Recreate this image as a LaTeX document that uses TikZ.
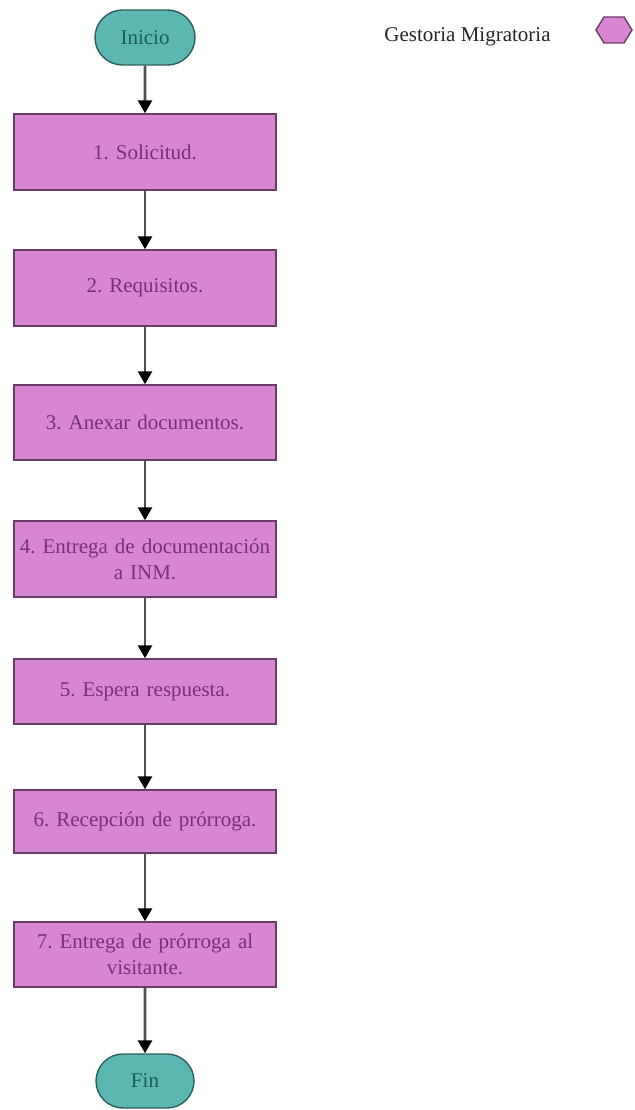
\documentclass[tikz,border=0pt]{standalone}
\usepackage{fontspec}
\setmainfont{Liberation Serif}
\usetikzlibrary{arrows.meta,shapes.misc}
\definecolor{termfill}{HTML}{5CB6B1}
\definecolor{termline}{HTML}{2E5F5C}
\definecolor{termtext}{HTML}{1A5F5C}
\definecolor{procfill}{HTML}{D886D2}
\definecolor{procline}{HTML}{6A3D68}
\definecolor{proctext}{HTML}{753473}
\definecolor{flowline}{HTML}{505050}
\tikzset{
  terminal/.style={rounded rectangle, draw=termline, line width=1.4pt, fill=termfill,
    text=termtext, minimum width=100pt, minimum height=55pt, inner sep=0pt,
    font=\fontsize{21}{26}\selectfont},
  process/.style={rectangle, draw=procline, line width=1.4pt, fill=procfill,
    text=proctext, minimum width=262pt, inner sep=0pt, align=center,
    text width=262pt, font=\fontsize{21}{26}\selectfont},
  flow/.style={draw=flowline, line width=2.6pt,
    -{Triangle[length=13pt,width=14pt,color=black,fill=black]}},
  legendtext/.style={text=black!85, font=\fontsize{21}{26}\selectfont, inner sep=0pt}
}
\begin{document}
\frenchspacing
\begin{tikzpicture}[x=1pt,y=-1pt]
  \useasboundingbox (0,0) rectangle (634,1110);

  % start and end
  \node[terminal] (inicio) at (145,37.5) {Inicio};
  \node[terminal, minimum width=98pt, minimum height=54pt] (fin) at (145,1081) {Fin};

  % process steps
  \node[process, minimum height=76pt] (s1) at (145,152) {1. Solicitud.};
  \node[process, minimum height=76pt] (s2) at (145,288) {2. Requisitos.};
  \node[process, minimum height=75pt] (s3) at (145,422.5) {3. Anexar documentos.};
  \node[process, minimum height=76pt] (s4) at (145,559) {4. Entrega de documentación\\a INM.};
  \node[process, minimum height=65pt] (s5) at (145,691.5) {5. Espera respuesta.};
  \node[process, minimum height=63pt] (s6) at (145,821.5) {6. Recepción de prórroga.};
  \node[process, minimum height=65pt] (s7) at (145,954.5) {7. Entrega de prórroga al\\visitante.};

  % connectors
  \draw[flow] (inicio) -- (s1);
  \draw[flow] (s1) -- (s2);
  \draw[flow] (s2) -- (s3);
  \draw[flow] (s3) -- (s4);
  \draw[flow] (s4) -- (s5);
  \draw[flow] (s5) -- (s6);
  \draw[flow] (s6) -- (s7);
  \draw[flow] (s7) -- (fin);

  % legend
  \node[legendtext] (leg) at (467.5,37) {Gestoria Migratoria};
  \draw[draw=procline, line width=1.4pt, fill=procfill]
    (596,30) -- (604,17) -- (624,17) -- (632,30) -- (624,43) -- (604,43) -- cycle;
\end{tikzpicture}
\end{document}
